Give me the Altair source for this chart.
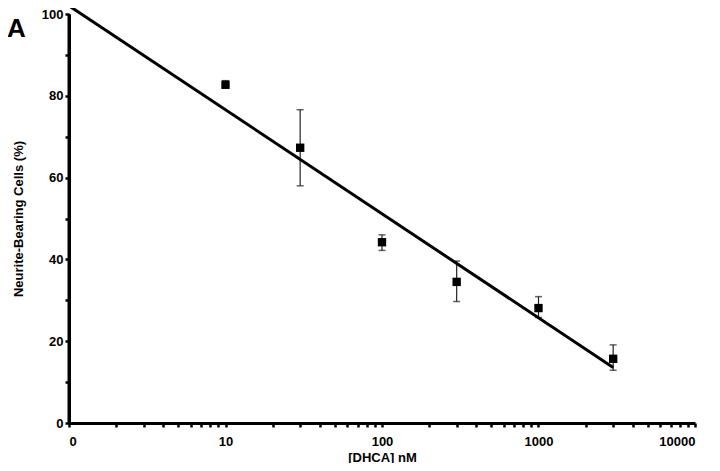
import altair as alt
import pandas as pd

# Data
conc = [10, 30, 100, 300, 1000, 3000]
mean = [82.7, 67.3, 44.2, 34.5, 28.1, 15.7]
err_lo = [82.0, 58.0, 42.2, 29.7, 25.8, 12.9]
err_hi = [83.7, 76.6, 46.0, 39.6, 30.9, 19.1]

fit_x = [1, 3000]
fit_y = [102.0, 13.6]

x_ticks = [m * 10 ** e for e in range(4) for m in range(1, 10)] + [10000]
y_ticks = list(range(0, 101, 5))

pts = pd.DataFrame({"conc": conc, "mean": mean, "lo": err_lo, "hi": err_hi})
fit = pd.DataFrame({"conc": fit_x, "val": fit_y})
ann = pd.DataFrame({"t": ["A"]})

FONT = "Liberation Sans"

xscale = alt.Scale(type="log", domain=[1, 10000], nice=False)
yscale = alt.Scale(domain=[0, 100], nice=False)

common = dict(
    grid=False,
    domain=True,
    domainColor="black",
    domainWidth=3,
    ticks=True,
    tickColor="black",
    tickWidth=2.5,
    tickSize=4,
    labelFont=FONT,
    labelFontWeight="bold",
    labelFontSize=13,
    labelColor="black",
    titleFont=FONT,
    titleFontWeight="bold",
    titleFontSize=13,
    titleColor="black",
    zindex=1,
)

xaxis = alt.Axis(
    values=x_ticks,
    labelExpr="datum.value == 1 ? '0' : (indexof([10,100,1000,10000], datum.value) >= 0 ? format(datum.value, 'd') : '')",
    title="[DHCA] nM",
    labelPadding=8,
    titleBaseline="alphabetic",
    titleY=38,
    **common,
)
yaxis = alt.Axis(
    values=y_ticks,
    labelExpr="datum.value % 20 == 0 ? format(datum.value, 'd') : ''",
    title="Neurite-Bearing Cells (%)",
    labelPadding=2,
    titlePadding=16,
    **common,
)

X = alt.X("conc:Q", scale=xscale, axis=xaxis)
Y = lambda f: alt.Y(f, scale=yscale, axis=yaxis)

# solid y-axis line through the scales (x = 1, y from 0 to 100)
yline = alt.Chart(ann).mark_rule(color="black", strokeWidth=3).encode(
    x=alt.datum(1, scale=xscale),
    y=alt.datum(0, scale=yscale),
    y2=alt.datum(100),
)

line = alt.Chart(fit).mark_line(color="black", strokeWidth=3, clip=False).encode(x=X, y=Y("val:Q"))
bars = alt.Chart(pts).mark_rule(color="#222222", strokeWidth=1.2).encode(x=X, y=Y("lo:Q"), y2="hi:Q")
cap_hi = alt.Chart(pts).mark_tick(color="#222222", orient="horizontal", size=7, thickness=1.5).encode(x=X, y=Y("hi:Q"))
cap_lo = alt.Chart(pts).mark_tick(color="#222222", orient="horizontal", size=7, thickness=1.5).encode(x=X, y=Y("lo:Q"))
marks = alt.Chart(pts).mark_point(shape="square", filled=True, color="black", size=70, opacity=1).encode(x=X, y=Y("mean:Q"))
label = alt.Chart(ann).mark_text(
    font=FONT, fontWeight="bold", fontSize=26, align="left", baseline="alphabetic", color="black"
).encode(text="t:N", x=alt.value(-62), y=alt.value(23))

chart = (
    alt.layer(bars, cap_hi, cap_lo, line, marks, yline, label)
    .properties(
        width=626,
        height=409,
        autosize=alt.AutoSizeParams(type="none"),
        padding={"left": 61, "top": 6, "right": 17, "bottom": 40},
    )
    .configure_view(stroke=None)
)

chart.save("out.html", embed_options={"renderer": "svg", "actions": False})
